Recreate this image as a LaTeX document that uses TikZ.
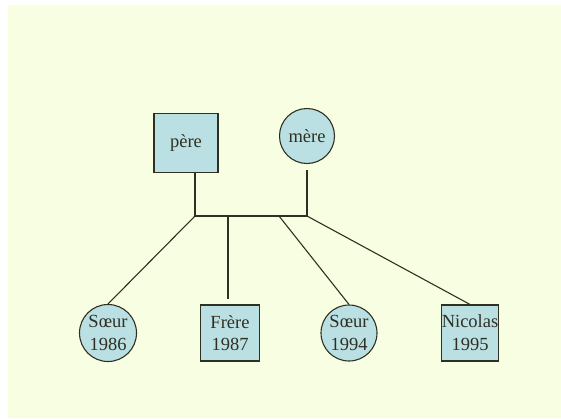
\documentclass[tikz,border=0pt]{standalone}
\usepackage{fontspec}
\setmainfont{Liberation Serif}
\usetikzlibrary{positioning, calc}
\definecolor{bgyellow}{RGB}{248,254,226}
\definecolor{nodeblue}{RGB}{187,224,228}
\definecolor{inkdark}{RGB}{48,48,34}
\begin{document}
\begin{tikzpicture}[
  x=1pt, y=-1pt,
  link/.style   = {line width=1.1pt, draw=inkdark},
  person/.style = {draw=inkdark, line width=1.1pt, fill=nodeblue, text=inkdark, inner sep=0pt,
                   align=center, font=\fontsize{18.5}{22.7}\selectfont},
  male/.style   = {person, rectangle},
  female/.style = {person, circle},
  ]
  \useasboundingbox (0,0) rectangle (561,418);
  \fill[bgyellow] (8,5) rectangle (561,418);

  % Parents
  \node (pere) at (186,143) [male, minimum width=64pt, minimum height=59pt] {père};
  \node (mere) at (307,136) [female, minimum size=55pt] {mère};

  % Children
  \node (soeurA)  at (108,333) [female, minimum size=57pt] {Sœur\\1986};
  \node (frere)   at (230,333) [male, minimum width=59pt, minimum height=56pt] {Frère\\1987};
  \node (soeurB)  at (349,333) [female, minimum size=56pt] {Sœur\\1994};
  \node (nicolas) at (470,333) [male, minimum width=57pt, minimum height=56pt] {Nicolas\\1995};

  % Junctions on the marriage line
  \coordinate (jp) at (195,216);
  \coordinate (jf) at (228,216);
  \coordinate (js) at (279,216);
  \coordinate (jm) at (307,216);

  % Marriage line
  \draw[link] ([xshift=9pt]pere.south) -- (jp) -- (jm) -- ([yshift=-6pt]mere.south);

  % Descent lines
  \draw[link] (jp) -- (soeurA.north);
  \draw[link] (jf) -- ([yshift=5pt]frere.north -| jf);
  \draw[link] (js) -- (soeurB.north);
  \draw[link] (jm) -- (nicolas.north);
\end{tikzpicture}
\end{document}
